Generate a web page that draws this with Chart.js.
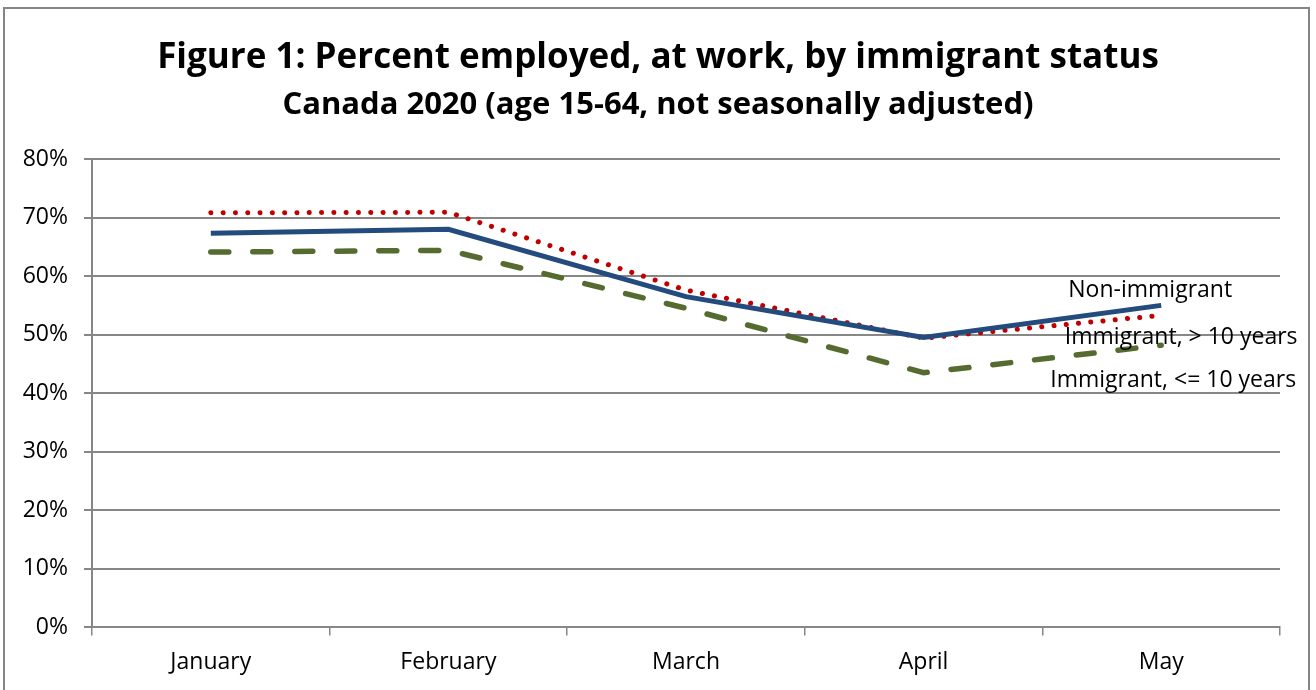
<!DOCTYPE html>
<html>
<head>
<meta charset="utf-8">
<title>Percent employed, at work, by immigrant status</title>
<script src="https://cdn.jsdelivr.net/npm/chart.js@4.4.1/dist/chart.umd.min.js"></script>
<style>
  html, body { margin: 0; padding: 0; background: #fff; }
  #wrap { width: 1316px; height: 690px; }
</style>
</head>
<body>
<div id="wrap"><canvas id="employmentChart"></canvas></div>
<script>
// Employment rates (%) by month
const months = ['January', 'February', 'March', 'April', 'May'];
const nonImmigrant = [67.3, 68.0, 56.5, 49.5, 55.0];
const immigrantOver10 = [70.8, 70.9, 57.6, 49.4, 53.3];
const immigrantUpTo10 = [64.1, 64.4, 54.5, 43.5, 48.2];
const yTicks = [0, 10, 20, 30, 40, 50, 60, 70, 80];

const titleText = 'Figure 1: Percent employed, at work, by immigrant status';
const subtitleText = 'Canada 2020 (age 15-64, not seasonally adjusted)';

const FONT = '"Open Sans", Lato, sans-serif';
const GRID = '#878787';

// where each series name sits relative to its last point
const endLabelOffsets = [
  { dx: -11, dy: -15 },
  { dx: 20, dy: 22 },
  { dx: 12, dy: 35 }
];

// white page, grey frame and the two heading lines
const framePlugin = {
  id: 'frame',
  beforeDraw(chart) {
    const ctx = chart.ctx;
    ctx.save();
    ctx.fillStyle = '#fff';
    ctx.fillRect(0, 0, chart.width, chart.height);
    ctx.strokeStyle = '#858585';
    ctx.lineWidth = 2;
    ctx.strokeRect(4, 8, 1305, 700);

    ctx.fillStyle = '#000';
    ctx.textAlign = 'center';
    ctx.textBaseline = 'middle';
    ctx.font = 'bold 35px ' + FONT;
    ctx.fillText(titleText, chart.width / 2, 58);
    ctx.font = 'bold 31px ' + FONT;
    ctx.fillText(subtitleText, chart.width / 2, 105);
    ctx.restore();
  }
};

// series names written next to the May values
const endLabelsPlugin = {
  id: 'endLabels',
  afterDatasetsDraw(chart) {
    const ctx = chart.ctx;
    ctx.save();
    ctx.font = '23px ' + FONT;
    ctx.fillStyle = '#000';
    ctx.textAlign = 'center';
    ctx.textBaseline = 'middle';
    chart.data.datasets.forEach((ds, i) => {
      const meta = chart.getDatasetMeta(i);
      const pt = meta.data[meta.data.length - 1];
      const off = endLabelOffsets[i];
      ctx.fillText(ds.label, pt.x + off.dx, pt.y + off.dy);
    });
    ctx.restore();
  }
};

const ctx = document.getElementById('employmentChart');
new Chart(ctx, {
  type: 'line',
  data: {
    labels: months,
    datasets: [
      {
        label: 'Non-immigrant',
        data: nonImmigrant,
        borderColor: '#234B7D',
        borderWidth: 5,
        pointRadius: 0,
        tension: 0,
        order: 1
      },
      {
        label: 'Immigrant, > 10 years',
        data: immigrantOver10,
        borderColor: '#C00000',
        borderWidth: 5,
        borderDash: [0.1, 12.2],
        borderCapStyle: 'round',
        pointRadius: 0,
        tension: 0,
        order: 2
      },
      {
        label: 'Immigrant, <= 10 years',
        data: immigrantUpTo10,
        borderColor: '#556B2F',
        borderWidth: 5.5,
        borderDash: [18, 24],
        borderCapStyle: 'round',
        pointRadius: 0,
        tension: 0,
        order: 3
      }
    ]
  },
  options: {
    responsive: true,
    maintainAspectRatio: false,
    animation: false,
    layout: {
      padding: { top: 159, left: 8, right: 36, bottom: 1 }
    },
    plugins: {
      legend: { display: false },
      tooltip: { enabled: false }
    },
    scales: {
      x: {
        offset: true,
        grid: {
          offset: true,
          drawOnChartArea: false,
          drawTicks: true,
          tickLength: 8,
          color: GRID,
          lineWidth: 1.5
        },
        border: { color: GRID, width: 2 },
        ticks: {
          color: '#000',
          padding: 13,
          font: { family: FONT, size: 23 }
        }
      },
      y: {
        min: 0,
        max: 80,
        afterFit(scale) { scale.width = 84; },
        afterBuildTicks(scale) { scale.ticks = yTicks.map(v => ({ value: v })); },
        grid: {
          color: GRID,
          lineWidth: 2,
          drawTicks: true,
          tickLength: 8
        },
        border: { color: GRID, width: 2 },
        ticks: {
          color: '#000',
          padding: 16,
          font: { family: FONT, size: 23 },
          callback: v => v + '%'
        }
      }
    }
  },
  plugins: [framePlugin, endLabelsPlugin]
});
</script>
</body>
</html>
